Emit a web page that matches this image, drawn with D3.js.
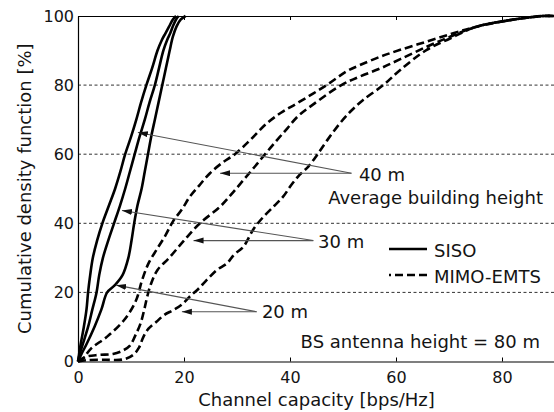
<!DOCTYPE html>
<html><head><meta charset="utf-8">
<script src="https://cdn.jsdelivr.net/npm/d3@7"></script>
<style>
body{margin:0;background:#fff}
svg{display:block}
text{font-family:"DejaVu Sans",Verdana,sans-serif;fill:#141414}
</style>
</head><body><svg id="chart" width="554" height="412"></svg>
<script>
// ---------- data (capacity [bps/Hz], CDF [%]) ----------
const xTicks = [0, 20, 40, 60, 80];
const yTicks = [0, 20, 40, 60, 80, 100];
const gridLevels = [20, 40, 60, 80];
const xLabel = "Channel capacity [bps/Hz]";
const yLabel = "Cumulative density function [%]";

const siso40 = [[0,0],[0.2,2],[0.5,5],[1.1,10],[1.6,15],[1.9,20],[2.3,25],[2.8,30],[3.6,35],[4.6,40],[5.8,45],[7.0,50],[8.0,55],[8.9,60],[10.0,65],[11.0,70],[11.9,75],[12.9,80],[14.0,85],[15.0,90],[15.8,93],[16.5,95],[17.2,97],[17.9,99],[18.5,100]];
const siso30 = [[0,0],[0.3,2],[0.9,5],[1.9,10],[2.7,15],[3.5,20],[4.0,25],[4.7,30],[5.7,35],[6.8,40],[7.9,45],[8.9,50],[9.8,55],[10.7,60],[11.6,65],[12.6,70],[13.5,75],[14.5,80],[15.3,85],[16.1,90],[16.8,93],[17.4,95],[17.9,97],[18.5,99],[19.0,100]];
const siso20 = [[0,0],[0.6,2],[1.6,5],[3.1,10],[4.4,15],[5.5,20],[6.9,22],[8.4,25],[9.5,30],[10.1,35],[10.6,40],[11.2,45],[12.0,50],[12.6,55],[13.2,60],[13.8,65],[14.5,70],[15.2,75],[15.9,80],[16.6,85],[17.3,90],[17.9,94],[18.6,97],[19.4,99],[20.3,100]];

const mimo40 = [[0,0],[0.7,0.5],[2.5,3.8],[5.5,7.2],[8.7,12],[10.9,17.5],[12.1,23.6],[13.3,28.4],[14.8,32.3],[16.5,36.5],[17.9,40.5],[19.6,44],[21.1,47.7],[22.9,51],[24.9,54.5],[27.2,57.5],[29.6,60],[32.5,64.1],[35.6,68.9],[38.3,72],[41.3,74.7],[46.9,80],[50.7,84],[53.2,85.8],[57,88.2],[60.8,90.2],[65.8,92.6],[70.8,95],[75.2,96.9],[81.5,98.8],[87.7,100],[90,100]];
const mimo30 = [[0,0],[1.6,1.4],[4,1.9],[6.6,2.2],[8.5,3.2],[9.8,4.6],[10.8,7.5],[11.8,11],[12.5,15],[13.1,19],[13.8,22.6],[15,26.5],[17.2,30],[20,35],[23,40],[26.8,44.8],[29,48.5],[31.2,52.5],[33.3,56.3],[35.3,60],[37.5,64],[39.5,67.5],[41.5,71],[44,74],[49.7,80],[53.2,82.5],[57,84.8],[60.8,87.5],[65.8,91.1],[70.2,94],[75.2,96.9],[81.5,98.8],[87.7,100],[90,100]];
const mimo20 = [[0,0],[1.6,0.4],[5,0.5],[8.5,0.6],[10.4,1.9],[11.5,4],[12.3,7],[13.3,9.5],[14.8,11.5],[16.3,13.5],[18,14.9],[19.6,16.5],[21.1,18.8],[22.7,21],[24.3,23.6],[26.2,26.5],[28.1,28.4],[29.5,31],[31.2,33.2],[33.1,38.3],[35,41.9],[37,45],[38.7,47.7],[40.2,51],[41.8,54],[43.5,56.5],[45.2,60],[47,64],[49.4,68.9],[51.5,72.5],[53.8,75.7],[57.6,80],[60.8,84.4],[65.8,90.2],[70.2,93.5],[75.2,96.9],[81.5,98.8],[87.7,100],[90,100]];

const seriesNames = ["SISO", "MIMO-EMTS"];
const noteText = "BS antenna height = 80 m";
const heightTitle = "Average building height";
// annotation anchors in data units: label position, convergence point, arrow tips
const notes = [
  {label:"40 m", at:[53.0,52.2], from:[51.6,54.5], tips:[[11.3,66.3],[26.8,54.5]]},
  {label:"30 m", at:[45.3,32.9], from:[44.4,35.0], tips:[[8.3,43.7],[21.8,35.0]]},
  {label:"20 m", at:[34.7,12.7], from:[33.7,14.4], tips:[[7.2,22.1],[19.6,14.4]]}
];
const heightTitleAt = [47.2,45.6];
const noteAt = [42.0,3.9];

// ---------- layout ----------
const svg = d3.select("#chart");
const L = 78, R = 555, T = 16, B = 361.5;
const x = d3.scaleLinear().domain([0,90]).range([L,R]);
const y = d3.scaleLinear().domain([0,100]).range([B,T]);

svg.append("rect").attr("width",554).attr("height",412).attr("fill","#fff");

// grid
svg.append("g").selectAll("line").data(gridLevels).join("line")
  .attr("x1",L).attr("x2",R).attr("y1",d=>y(d)).attr("y2",d=>y(d))
  .attr("stroke","#333").attr("stroke-width",1).attr("stroke-dasharray","3,2.5");

// curves
const line = d3.line().x(d=>x(d[0])).y(d=>y(d[1])).curve(d3.curveCatmullRom.alpha(0.5));
const curves = [
  {d:siso40, dash:false},{d:siso30, dash:false},{d:siso20, dash:false},
  {d:mimo40, dash:true},{d:mimo30, dash:true},{d:mimo20, dash:true}
];
svg.append("g").selectAll("path").data(curves).join("path")
  .attr("d",c=>line(c.d)).attr("fill","none").attr("stroke","#000")
  .attr("stroke-width",2.6).attr("stroke-linejoin","round")
  .attr("stroke-dasharray",c=>c.dash?"8,4":null);

// axes
const xAxis = d3.axisBottom(x).tickValues(xTicks).tickSizeInner(-4).tickSizeOuter(0).tickPadding(10);
const gx = svg.append("g").attr("transform",`translate(0,${B})`).call(xAxis);
const yAxis = d3.axisLeft(y).tickValues(yTicks).tickSizeInner(-4).tickSizeOuter(0).tickPadding(4);
const gy = svg.append("g").attr("transform",`translate(${L},0)`).call(yAxis);
[gx,gy].forEach(g=>{
  g.selectAll("text").style("font-family","'DejaVu Sans',Verdana,sans-serif").style("font-size","16px").attr("fill","#141414");
  g.select(".domain").attr("stroke","#000").attr("stroke-width",1.2);
  g.selectAll(".tick line").attr("stroke","#000");
});
gy.selectAll(".tick line").attr("stroke","none");
// top frame with inward ticks
const xTop = d3.axisTop(x).tickValues(xTicks).tickSizeInner(-4).tickSizeOuter(0).tickFormat("");
const gt = svg.append("g").attr("transform",`translate(0,${T})`).call(xTop);
gt.select(".domain").attr("stroke","#000").attr("stroke-width",1.2);
gt.selectAll(".tick line").attr("stroke","#000");

// axis labels
svg.append("text").attr("x",(L+R)/2).attr("y",406).attr("text-anchor","middle")
  .style("font-size","18px").text(xLabel);
svg.append("text").attr("transform",`translate(31,${(T+B)/2}) rotate(-90)`).attr("text-anchor","middle")
  .style("font-size","18px").text(yLabel);

// arrows
const defs = svg.append("defs");
defs.append("marker").attr("id","ah").attr("markerUnits","userSpaceOnUse")
  .attr("markerWidth",12).attr("markerHeight",8).attr("refX",10).attr("refY",3)
  .attr("orient","auto").append("path").attr("d","M0,0 L10,3 L0,6 Z").attr("fill","#111");
const ag = svg.append("g");
notes.forEach(n=>{
  n.tips.forEach(t=>{
    ag.append("line").attr("x1",x(n.from[0])).attr("y1",y(n.from[1]))
      .attr("x2",x(t[0])).attr("y2",y(t[1]))
      .attr("stroke","#555").attr("stroke-width",1.1).attr("marker-end","url(#ah)");
  });
  ag.append("text").attr("x",x(n.at[0])).attr("y",y(n.at[1])).style("font-size","18px").text(n.label);
});
svg.append("text").attr("x",x(heightTitleAt[0])).attr("y",y(heightTitleAt[1])).style("font-size","18px").text(heightTitle);
svg.append("text").attr("x",x(noteAt[0])).attr("y",y(noteAt[1])).style("font-size","18px").text(noteText);

// legend
const lg = svg.append("g").attr("transform","translate(389,249)");
seriesNames.forEach((s,i)=>{
  lg.append("line").attr("x1",0).attr("x2",38).attr("y1",i*26).attr("y2",i*26)
    .attr("stroke","#000").attr("stroke-width",2.6)
    .attr("stroke-dasharray",i?"8,4":null).attr("stroke-dashoffset",i?6:0);
  lg.append("text").attr("x",45).attr("y",i*26+7.5).style("font-size","18px").text(s);
});
</script>
</body></html>
